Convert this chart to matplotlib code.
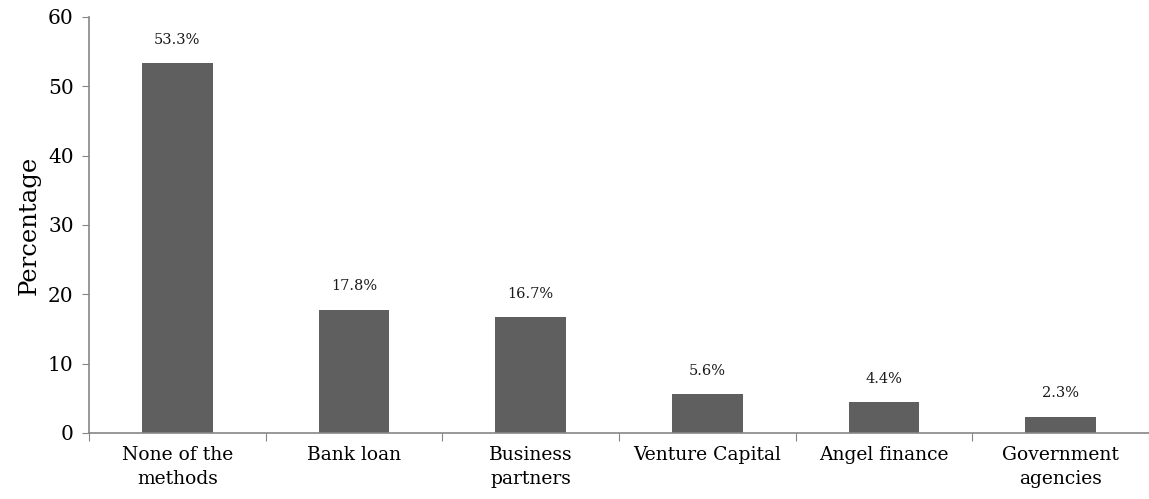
import numpy as np
import matplotlib.pyplot as plt

# data
categories = ["None of the\nmethods", "Bank loan", "Business\npartners",
              "Venture Capital", "Angel finance", "Government\nagencies"]
values = [53.3, 17.8, 16.7, 5.6, 4.4, 2.3]
yticks = [0, 10, 20, 30, 40, 50, 60]

plt.rcParams['font.family'] = ['DejaVu Serif']
axis_col = "#868686"

fig = plt.figure(figsize=(11.49, 4.99), dpi=100)
ax = fig.add_axes([89 / 1149, 66 / 499, 1 - 89 / 1149, (433 - 17) / 499])

x = np.arange(len(categories))
bars = ax.bar(x, values, width=0.4, color="#5f5f5f")
for b, v in zip(bars, values):
    ax.text(b.get_x() + b.get_width() / 2, v + 2.4, f"{v:.1f}%",
            ha="center", va="bottom", fontsize=10.5, color="#1a1a1a")

ax.set_xlim(-0.5, len(categories) - 0.5)
ax.set_ylim(0, 60)
ax.set_yticks(yticks)
ax.set_yticklabels([str(t) for t in yticks], fontsize=14.5)

# boundary ticks on x, labels at centres
ax.set_xticks(np.arange(len(categories) + 1) - 0.5)
ax.set_xticklabels([])
ax.set_xticks(x, minor=True)
ax.set_xticklabels(categories, minor=True, fontsize=13.5, linespacing=1.45)
ax.tick_params(axis="x", which="major", length=6, color=axis_col, direction="out")
ax.tick_params(axis="x", which="minor", length=0, pad=9)
ax.tick_params(axis="y", length=5, color=axis_col, pad=6)

for s in ["top", "right"]:
    ax.spines[s].set_visible(False)
for s in ["left", "bottom"]:
    ax.spines[s].set_color(axis_col)
    ax.spines[s].set_linewidth(1.2)

ax.set_ylabel("Percentage", fontsize=17.5, labelpad=5)

fig.savefig("out.png", dpi=100)
